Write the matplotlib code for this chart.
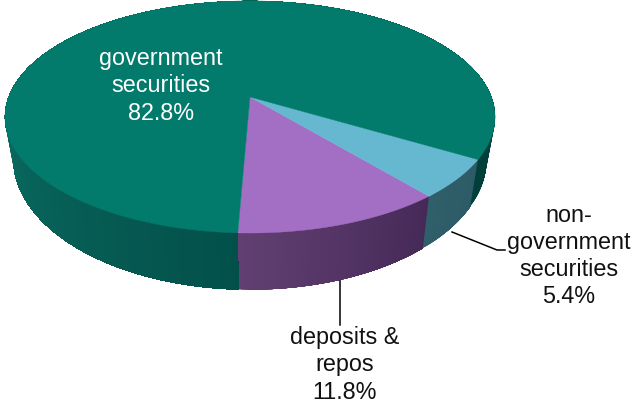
import numpy as np
import matplotlib.pyplot as plt
from matplotlib.colors import to_rgb

DPI = 100

labels = ["deposits &\nrepos\n11.8%", "non-\ngovernment\nsecurities\n5.4%", "government\nsecurities\n82.8%"]
shares = [11.8, 5.4, 82.8]
top_colors = ["#a26fc4", "#66b8d1", "#027a6c"]
# side colours along the wedge: (fraction along wedge, colour)
side_colors = [
    [(0, "#613f72"), (1, "#452957")],
    [(0, "#2f5f6a"), (1, "#2d5a66")],
    [(0, "#013f3b"), (0.09, "#01403c"), (0.095, "#04564e"), (0.45, "#0b7064"), (0.72, "#0a6e62"), (1, "#03504a")],
]

# projection of the pie disc
cx, cy = 250, 97
k, b, a = 0.172, 112.6, 241.4
start = -2.4
xs, ys, d = 0.966, 1.13, 39


def rim(t):
    # t in degrees, clockwise from the point nearest the viewer
    r = np.radians(t)
    u, v = np.sin(r), -np.cos(r)
    w = 1 + k * v
    return a * u / w, b * v / w


def to_px(x, y):
    return cx + x, cy - y


fig = plt.figure(figsize=(632 / DPI, 408 / DPI), dpi=DPI)
ax = fig.add_axes([0, 0, 1, 1])
ax.set_xlim(0, 632)
ax.set_ylim(408, 0)
ax.axis("off")

angles = start + np.cumsum([0] + shares) * 3.6

# side wall first, the top face covers whatever lies behind it
for i in range(len(shares)):
    ts = np.linspace(angles[i], angles[i + 1], int((angles[i + 1] - angles[i]) * 1.5) + 2)
    stops = [s[0] for s in side_colors[i]]
    rgb = np.array([to_rgb(s[1]) for s in side_colors[i]])
    for j, t0 in enumerate(ts[:-1]):
        # each strip runs on to the end of the wedge so neighbours leave no seam
        f = (t0 - angles[i]) / (angles[i + 1] - angles[i])
        col = [np.interp(f, stops, rgb[:, c]) for c in range(3)]
        arc = np.linspace(t0, angles[i + 1], 80)
        x, y = rim(arc)
        px0, py0 = to_px(x, y)
        px1, py1 = to_px(x * xs, y * ys - d)
        ax.fill(np.r_[px0, px1[::-1]], np.r_[py0, py1[::-1]], color=col, lw=0, zorder=2)

for i in range(len(shares)):
    ts = np.linspace(angles[i], angles[i + 1], 300)
    x, y = rim(ts)
    px, py = to_px(x, y)
    ax.fill(np.r_[cx, px], np.r_[cy, py], color=top_colors[i], lw=0.3, zorder=3)

# leader lines
ax.plot([340, 340], [279, 325], color="black", lw=1.1, zorder=1)
ax.plot([452, 497, 505], [232, 250, 250], color="black", lw=1.1, zorder=1)

font = dict(family="Liberation Sans", fontsize=16.8, ha="center", va="center", linespacing=1.24)
ax.text(161, 86, labels[2], color="white", zorder=5, **font)
ax.text(568.5, 256, labels[1], color="#111111", zorder=5, **font)
ax.text(345, 365, labels[0], color="#111111", zorder=5, **font)

plt.savefig("out.png", dpi=DPI)
